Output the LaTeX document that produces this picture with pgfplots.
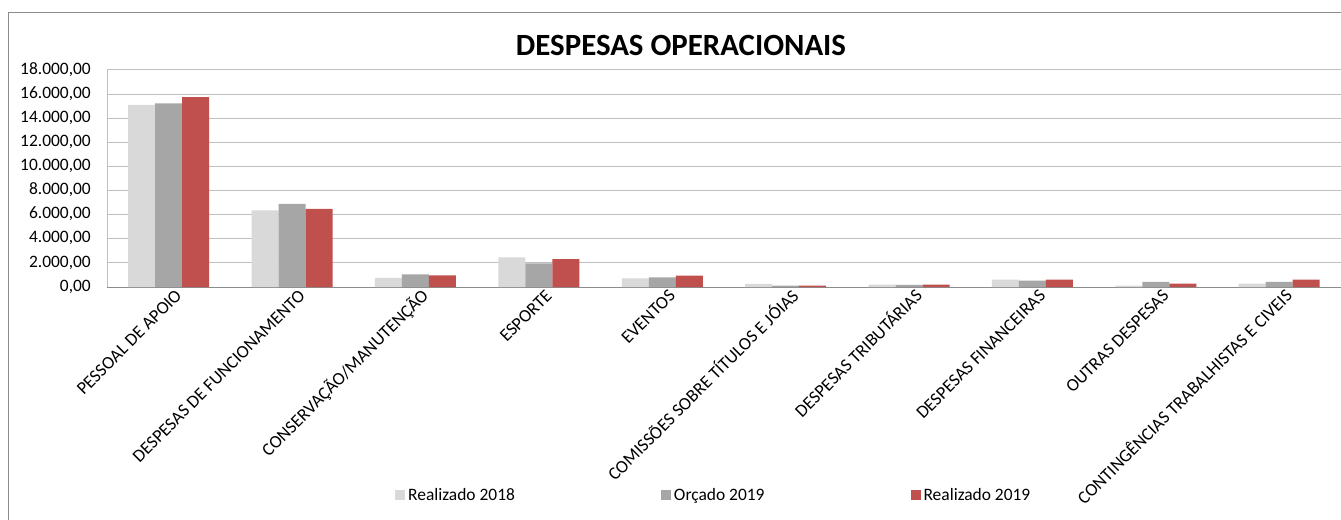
\documentclass[border=0pt]{standalone}
\usepackage{fontspec}
\setmainfont{Carlito}
\usepackage{pgfplots}
\pgfplotsset{compat=1.18}
\definecolor{cLight}{HTML}{D9D9D9}
\definecolor{cGray}{HTML}{A6A6A6}
\definecolor{cRed}{HTML}{C0504D}
\definecolor{cGrid}{HTML}{BFBFBF}
\definecolor{cAxis}{HTML}{8C8C8C}
\begin{document}
\begin{tikzpicture}
\useasboundingbox (0bp,0bp) rectangle (1341bp,520bp);
\fill[white] (0bp,0bp) rectangle (1341bp,520bp);
\draw[cAxis,line width=1bp] (8.7bp,0bp) -- (8.7bp,507bp) -- (1345bp,507bp);
\node[font=\fontsize{31}{35}\selectfont\bfseries] at (681bp,475bp) {DESPESAS OPERACIONAIS};
\begin{axis}[
  at={(107bp,233bp)}, anchor=south west,
  scale only axis, width=1234bp, height=217bp,
  xmin=-0.5, xmax=9.5, ymin=0, ymax=18000,
  ybar=0pt, bar width=27bp,
  axis x line*=bottom, axis y line*=left,
  x axis line style={-, draw=cAxis, line width=1bp},
  y axis line style={-, draw=cGrid, line width=0.8bp},
  ymajorgrids, grid style={cGrid, line width=1bp},
  major tick length=0pt,
  ytick={0,2000,...,18000},
  scaled y ticks=false,
  xtick={0,...,9},
  xticklabels={PESSOAL DE APOIO, DESPESAS DE FUNCIONAMENTO, CONSERVAÇÃO/MANUTENÇÃO, ESPORTE, EVENTOS, COMISSÕES SOBRE TÍTULOS E JÓIAS, DESPESAS TRIBUTÁRIAS, DESPESAS FINANCEIRAS, OUTRAS DESPESAS, CONTINGÊNCIAS TRABALHISTAS E CIVEIS},
  typeset ticklabels with strut,
  xticklabel style={rotate=45, anchor=north east, inner sep=0pt, font=\fontsize{18}{21}\selectfont, xshift=3bp, yshift=-2bp},
  yticklabel style={font=\fontsize{17.5}{21}\selectfont, inner sep=0pt, xshift=-16bp},
  /pgf/number format/.cd, fixed, fixed zerofill, precision=2, use comma, 1000 sep={.}, assume math mode=true,
  /pgfplots/.cd,
  legend columns=3,
  legend style={at={(0.2334,-0.9585)}, anchor=west, draw=none, fill=none, inner sep=0pt,
    font=\fontsize{17.5}{21}\selectfont,
    /tikz/every even column/.append style={column sep=143bp},
    nodes={inner xsep=3bp, inner ysep=2bp}},
  legend image code/.code={\path[#1,draw=none] (0bp,-5bp) rectangle (10bp,5bp);},
  clip=false,
]
\addplot[fill=cLight, draw=none] coordinates {(0,15100) (1,6360) (2,750) (3,2450) (4,710) (5,250) (6,190) (7,605) (8,110) (9,275)};
\addplot[fill=cGray, draw=none] coordinates {(0,15230) (1,6900) (2,1050) (3,1960) (4,800) (5,110) (6,185) (7,525) (8,415) (9,415)};
\addplot[fill=cRed, draw=none] coordinates {(0,15750) (1,6490) (2,970) (3,2320) (4,940) (5,110) (6,190) (7,605) (8,275) (9,605)};
\legend{Realizado 2018, Orçado 2019, Realizado 2019}
\end{axis}
\end{tikzpicture}
\end{document}
